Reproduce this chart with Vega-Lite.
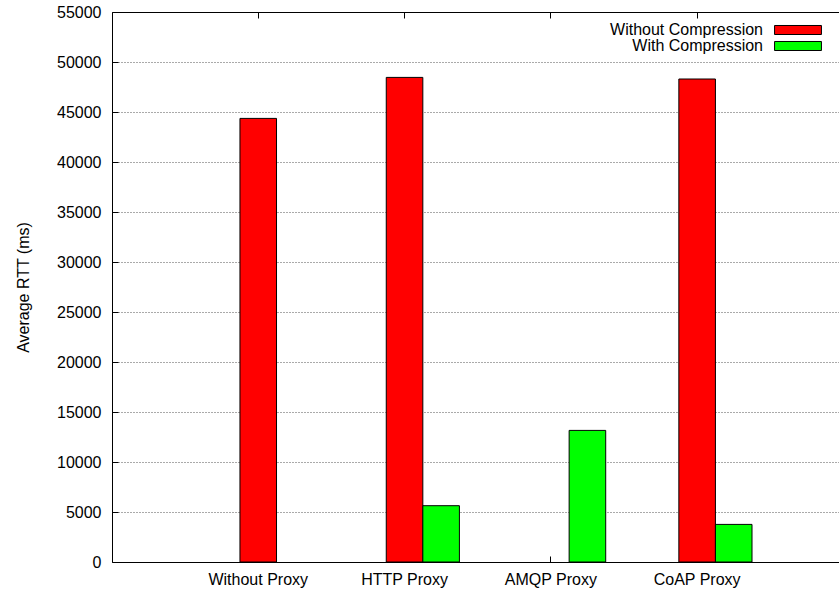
{
  "$schema": "https://vega.github.io/schema/vega-lite/v6.json",
  "width": 727,
  "height": 550,
  "autosize": {"type": "none"},
  "padding": {"left": 112, "top": 12, "right": 0, "bottom": 31},
  "config": {
    "view": {"stroke": null},
    "font": "Liberation Sans",
    "axis": {
      "domainColor": "black",
      "domainWidth": 1,
      "tickColor": "black",
      "tickWidth": 1,
      "labelColor": "black",
      "labelFont": "Liberation Sans",
      "labelFontSize": 16,
      "titleFont": "Liberation Sans",
      "titleFontSize": 16,
      "titleFontWeight": "normal",
      "titleColor": "black"
    }
  },
  "data": {
    "values": [
      {"proxy": "Without Proxy", "series": "Without Compression", "rtt": 44360},
      {"proxy": "HTTP Proxy", "series": "Without Compression", "rtt": 48460},
      {"proxy": "HTTP Proxy", "series": "With Compression", "rtt": 5630},
      {"proxy": "AMQP Proxy", "series": "With Compression", "rtt": 13160},
      {"proxy": "CoAP Proxy", "series": "Without Compression", "rtt": 48300},
      {"proxy": "CoAP Proxy", "series": "With Compression", "rtt": 3760}
    ]
  },
  "resolve": {"axis": {"x": "independent"}},
  "layer": [
    {
      "mark": {"type": "bar", "stroke": "black", "strokeWidth": 1},
      "encoding": {
        "x": {
          "field": "proxy",
          "type": "nominal",
          "sort": ["Without Proxy", "HTTP Proxy", "AMQP Proxy", "CoAP Proxy"],
          "scale": {"paddingInner": 0.25, "paddingOuter": 0.6096, "align": 0.5123},
          "axis": {
            "orient": "bottom",
            "title": null,
            "labelAngle": 0,
            "tickSize": -6,
            "labelPadding": 15,
            "grid": false
          }
        },
        "xOffset": {
          "field": "series",
          "type": "nominal",
          "scale": {"domain": ["none", "Without Compression", "With Compression"], "paddingInner": 0, "paddingOuter": 0}
        },
        "y": {
          "field": "rtt",
          "type": "quantitative",
          "scale": {"domain": [0, 55000], "nice": false},
          "axis": {
            "values": [0, 5000, 10000, 15000, 20000, 25000, 30000, 35000, 40000, 45000, 50000, 55000],
            "format": "d",
            "title": "Average RTT (ms)",
            "titlePadding": 25,
            "tickSize": -6,
            "labelPadding": 17,
            "grid": true,
            "gridColor": "#555555",
            "gridDash": [1, 2],
            "gridWidth": 1
          }
        },
        "color": {
          "field": "series",
          "type": "nominal",
          "scale": {"domain": ["Without Compression", "With Compression"], "range": ["#ff0000", "#00ff00"]},
          "legend": {
            "title": null,
            "orient": "none",
            "legendX": 678,
            "legendY": 10,
            "symbolType": "M-5,-0.96H5V0.96H-5Z",
            "symbolSize": 88,
            "symbolStrokeColor": "black",
            "symbolStrokeWidth": 1,
            "symbolOpacity": 1,
            "labelAlign": "right",
            "labelOffset": -43,
            "labelFont": "Liberation Sans",
            "labelFontSize": 16,
            "labelColor": "black",
            "labelLimit": 400,
            "rowPadding": 0
          }
        }
      }
    },
    {
      "mark": {"type": "point", "opacity": 0},
      "encoding": {
        "x": {
          "field": "proxy",
          "type": "nominal",
          "sort": ["Without Proxy", "HTTP Proxy", "AMQP Proxy", "CoAP Proxy"],
          "axis": {"orient": "top", "title": null, "labels": false, "tickSize": -6, "grid": false}
        }
      }
    }
  ]
}
